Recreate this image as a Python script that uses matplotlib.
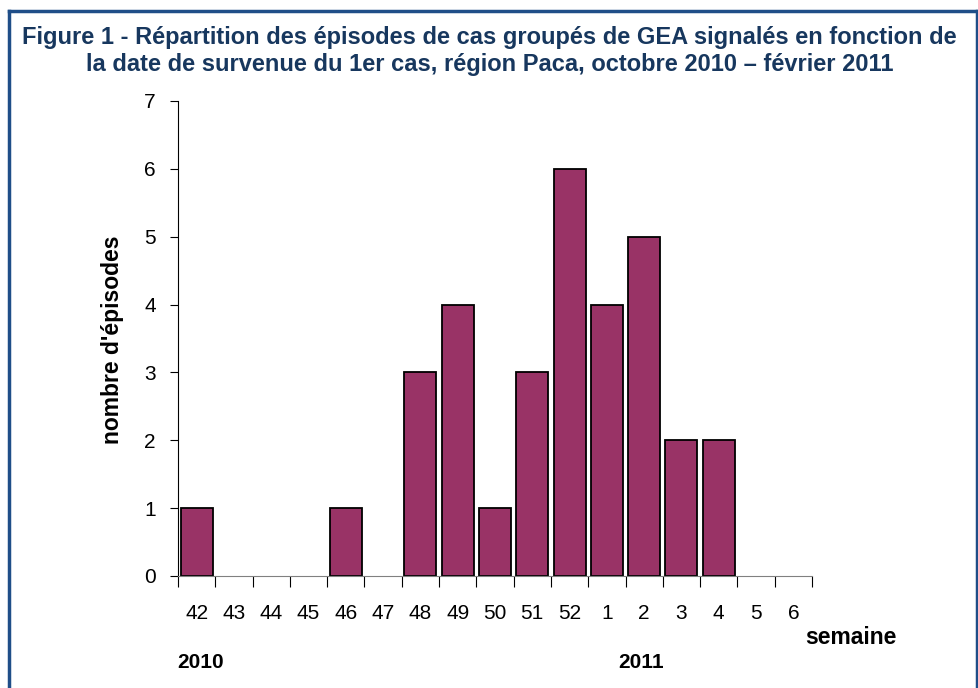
import numpy as np
import matplotlib.pyplot as plt
from matplotlib.lines import Line2D

plt.rcParams['font.family'] = ['Liberation Sans', 'DejaVu Sans']

# weekly counts of GEA clusters
semaines = ['42', '43', '44', '45', '46', '47', '48', '49', '50', '51', '52',
            '1', '2', '3', '4', '5', '6']
episodes = [1, 0, 0, 0, 1, 0, 3, 4, 1, 3, 6, 4, 5, 2, 2, 0, 0]
titre = ("Figure 1 - Répartition des épisodes de cas groupés de GEA signalés en fonction de\n"
         "la date de survenue du 1er cas, région Paca, octobre 2010 – février 2011")

fig = plt.figure(figsize=(9.79, 6.88), dpi=100)
# blue frame (left, top, right), bottom edge cut off like in the source
x0, x1, ytop = 9 / 979, 977 / 979, 1 - 11 / 688
frame_col = '#1F4E88'
fig.add_artist(Line2D([x0, x0], [0, ytop], transform=fig.transFigure, color=frame_col, linewidth=2.5))
fig.add_artist(Line2D([x0, x1], [ytop, ytop], transform=fig.transFigure, color=frame_col, linewidth=2.5))
fig.add_artist(Line2D([x1, x1], [0, ytop], transform=fig.transFigure, color=frame_col, linewidth=2.5))
fig.text(0.5, 0.962, titre, ha='center', va='top', fontsize=17, fontweight='bold',
         color='#17375E', linespacing=1.2)

ax = fig.add_axes([0.1818, 0.1628, 0.6476, 0.6904])
x = np.arange(len(semaines))
bars = ax.bar(x, episodes, width=0.86, color='#993366', edgecolor='black', linewidth=1.3)
for b, v in zip(bars, episodes):
    if v == 0:
        b.set_visible(False)

ax.set_xlim(-0.5, len(semaines) - 0.5)
ax.set_ylim(0, 7)
ax.set_yticks(range(8))
ax.tick_params(axis='y', labelsize=15, length=6, direction='out', pad=10)

# ticks sit between categories, labels centred
ax.set_xticks(np.arange(len(semaines) + 1) - 0.5)
ax.set_xticklabels([])
ax.set_xticks(x, minor=True)
ax.set_xticklabels(semaines, minor=True)
ax.tick_params(axis='x', which='major', length=8, direction='out', color='black')
ax.tick_params(axis='x', which='minor', length=0, labelsize=15, pad=20)

for s in ['top', 'right']:
    ax.spines[s].set_visible(False)
ax.spines['bottom'].set_color('#808080')
ax.spines['left'].set_color('black')

fig.text(112 / 979, 1 - 340 / 688, "nombre d'épisodes", rotation=90, ha='center', va='center',
         fontsize=16.5, fontweight='bold')
fig.text(851 / 979, 1 - 638 / 688, 'semaine', ha='center', va='center', fontsize=16.5, fontweight='bold')
fig.text(201 / 979, 1 - 662 / 688, '2010', ha='center', va='center', fontsize=15, fontweight='bold')
fig.text(641 / 979, 1 - 662 / 688, '2011', ha='center', va='center', fontsize=15, fontweight='bold')

fig.savefig('out.png', dpi=100)
